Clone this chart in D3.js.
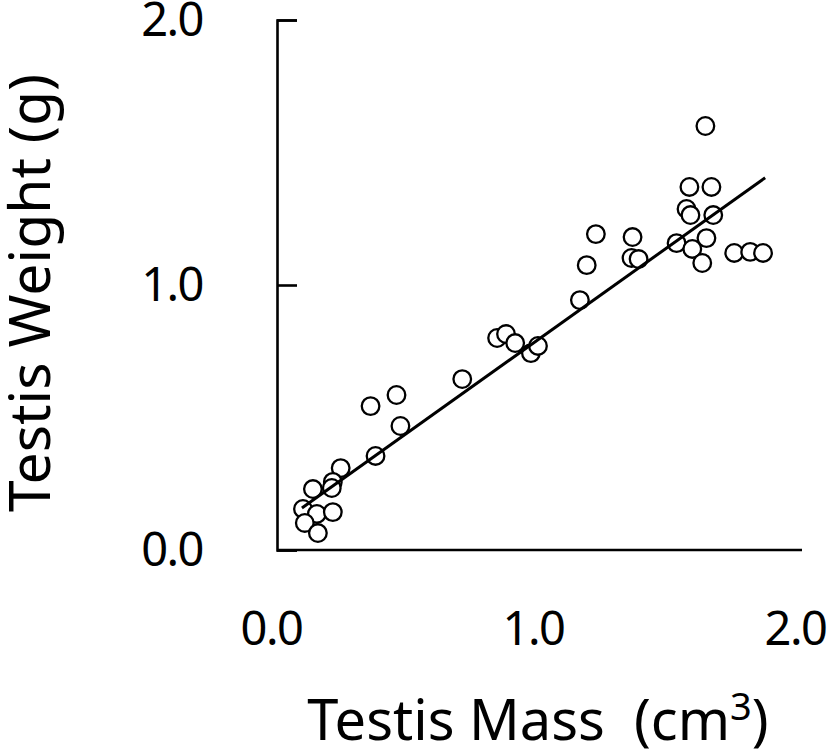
<!DOCTYPE html>
<html>
<head>
<meta charset="utf-8">
<script src="https://cdn.jsdelivr.net/npm/d3@7"></script>
<style>
  html, body { margin: 0; padding: 0; background: #fff; }
  svg { display: block; }
  text { font-family: "Noto Sans", "Open Sans", sans-serif; fill: #000; }
</style>
</head>
<body>
<svg id="chart" width="827" height="754"></svg>
<script>
// ---- data ----
const testisMass = [
  1.658, 1.597, 1.681, 1.586, 1.601, 1.688, 1.240, 1.380, 1.662, 1.548,
  1.608, 1.768, 1.829, 1.878, 1.376, 1.403, 1.205, 1.646, 1.179,
  0.863, 0.897, 0.932, 0.992, 1.019, 0.730, 0.380, 0.479, 0.494, 0.399,
  0.266, 0.236, 0.232, 0.160, 0.122, 0.175, 0.236, 0.129, 0.179
];
const testisWeight = [
  1.600, 1.370, 1.370, 1.287, 1.264, 1.264, 1.192, 1.181, 1.177, 1.158,
  1.136, 1.121, 1.125, 1.121, 1.102, 1.098, 1.075, 1.083, 0.943,
  0.800, 0.815, 0.781, 0.743, 0.770, 0.645, 0.543, 0.585, 0.468, 0.355,
  0.309, 0.257, 0.234, 0.230, 0.155, 0.136, 0.143, 0.102, 0.064
];
const fitIntercept = 0.075;
const fitSlope = 0.705;
const fitRange = [0.118, 1.886];
const xTicks = [0, 1, 2];
const yTicks = [0, 1, 2];
const xTitle = "Testis Mass\u00A0\u00A0(cm";
const yTitle = "Testis Weight\u00A0(g)";

// ---- layout ----
const svg = d3.select("#chart");
const box = { left: 277, right: 802, top: 20, bottom: 550 };
const x = d3.scaleLinear().domain([0, 2]).range([271, 795]);
const y = d3.scaleLinear().domain([0, 2]).range([550, 20]);

// x axis line (no ticks)
svg.append("line")
  .attr("x1", box.left).attr("x2", box.right)
  .attr("y1", box.bottom).attr("y2", box.bottom)
  .attr("stroke", "#000").attr("stroke-width", 2.6);

// x tick labels
const xAxis = svg.append("g")
  .attr("transform", `translate(0,${box.bottom})`)
  .call(d3.axisBottom(x).tickValues(xTicks).tickFormat(d3.format(".1f")).tickSize(0).tickPadding(62));
xAxis.select(".domain").remove();
xAxis.selectAll("text").attr("font-size", 47).attr("letter-spacing", -1.5).attr("font-family", null);

// y axis with inward ticks
const yAxis = svg.append("g")
  .attr("transform", `translate(${box.left},0)`)
  .call(d3.axisLeft(y).tickValues(yTicks).tickFormat(d3.format(".1f"))
    .tickSizeInner(-20).tickSizeOuter(-20).tickPadding(74));
yAxis.selectAll("path, line").attr("stroke", "#000").attr("stroke-width", 2.6);
yAxis.selectAll("text").attr("font-size", 47).attr("letter-spacing", -1.5).attr("font-family", null);

// points
svg.append("g").selectAll("circle")
  .data(testisMass.map((m, i) => ({ m, w: testisWeight[i] })))
  .join("circle")
  .attr("cx", d => x(d.m))
  .attr("cy", d => y(d.w))
  .attr("r", 8.8)
  .attr("fill", "#fff")
  .attr("stroke", "#000")
  .attr("stroke-width", 2.3);

// fit line
svg.append("line")
  .attr("x1", x(fitRange[0])).attr("y1", y(fitIntercept + fitSlope * fitRange[0]))
  .attr("x2", x(fitRange[1])).attr("y2", y(fitIntercept + fitSlope * fitRange[1]))
  .attr("stroke", "#000").attr("stroke-width", 3);

// axis titles
const xt = svg.append("text")
  .attr("x", 538).attr("y", 740)
  .attr("text-anchor", "middle")
  .attr("font-size", 56);
xt.append("tspan").text(xTitle);
xt.append("tspan").attr("font-size", 38).attr("dy", -20).text("3");
xt.append("tspan").attr("dy", 20).text(")");

svg.append("text")
  .attr("transform", "translate(50,293) rotate(-90)")
  .attr("text-anchor", "middle")
  .attr("font-size", 57)
  .text(yTitle);
</script>
</body>
</html>
